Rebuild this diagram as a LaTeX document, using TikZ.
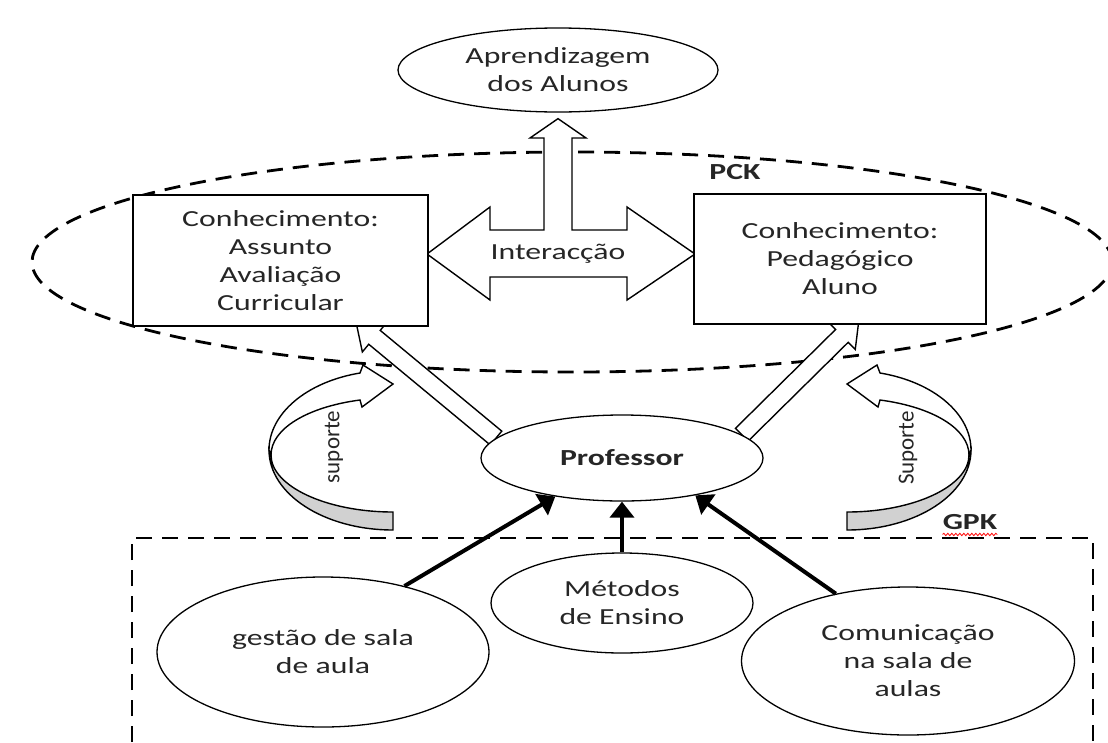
\documentclass[tikz,border=0pt]{standalone}
\usepackage{fontspec}
\setmainfont[FakeStretch=1.38]{Carlito}
\newfontfamily\upfont{Carlito}
\usepackage{tikz}
\usetikzlibrary{arrows.meta,positioning,calc,shapes.geometric,backgrounds,decorations.pathmorphing}

\newcommand{\hollowarrow}[5]{%
  \path ($(#2)!#5!(#1)$) coordinate (hb);
  \draw[hollow] ($(#1)!#3!90:(#2)$) -- ($(hb)!#3!90:(#2)$) -- ($(hb)!#4!90:(#2)$) -- (#2)
    -- ($(hb)!#4!-90:(#2)$) -- ($(hb)!#3!-90:(#2)$) -- ($(#1)!#3!-90:(#2)$) -- cycle;}
\newcommand{\suportearrow}{%
  \draw[band] (269,450) .. controls (269,494) and (324,530) .. (393,530) -- (393,512)
    .. controls (326,512) and (271,486) .. (271,455) -- cycle;
  \draw[hollow] (269,450) .. controls (269,414) and (306,382) .. (360,373) -- (363,365) -- (393,384)
    -- (362,407) -- (360,400) .. controls (307,407) and (271,429) .. (271,455) -- cycle;}

\begin{document}
\begin{tikzpicture}[
  x=1pt, y=-1pt,
  font=\fontsize{23}{28}\selectfont,
  every node/.style={text=black!85},
  box/.style={draw,line width=1.5pt,fill=white,align=center,inner sep=0pt,minimum width=295pt,minimum height=131pt},
  oval/.style={ellipse,draw,line width=1.3pt,fill=white,align=center,inner sep=0pt},
  hollow/.style={draw,line width=1.4pt,fill=white,line join=miter},
  band/.style={draw,line width=1.4pt,fill=black!18},
  zone/.style={line width=2.8pt,dash pattern=on 16pt off 10pt},
  arr/.style={-{Triangle[length=16pt,width=24pt]},line width=4pt}
]
\useasboundingbox (0,0) rectangle (1108,742);

\node[oval,minimum width=320pt,minimum height=84pt] (alunos) at (558,70) {Aprendizagem\\dos Alunos};
\node[box] (lbox) at (280.5,260.5) {Conhecimento:\\Assunto\\Avaliação\\Curricular};
\node[box,minimum width=292pt,minimum height=130pt] (rbox) at (840,259) {Conhecimento:\\Pedagógico\\Aluno};
\node (interac) at (558,254) {Interacção};
\node[oval,minimum width=282pt,minimum height=86pt] (prof) at (622,458) {\textbf{Professor}};
\node[oval,minimum width=262pt,minimum height=100pt] (metodos) at (622,603) {Métodos\\de Ensino};
\node[oval,minimum width=332pt,minimum height=150pt] (gestao) at (323,652) {gestão de sala\\de aula};
\node[oval,minimum width=333pt,minimum height=148pt] (comunic) at (908,661) {Comunicação\\na sala de\\aulas};
\node[inner sep=0pt] (pck) at (735,172) {\textbf{PCK}};
\node[inner sep=0pt] (gpk) at (970,522) {\textbf{GPK}};
\node[rotate=90,font=\upfont\fontsize{23}{28}\selectfont] (sup1) at (334,447) {suporte};
\node[rotate=90,font=\upfont\fontsize{23}{28}\selectfont] (sup2) at (908,448) {Suporte};

\coordinate (il) at (427,254);
\coordinate (ir) at (695,254);
\coordinate (itop) at ($(alunos.south)+(0,6)$);
\coordinate (ltip) at (356,322);
\coordinate (rtip) at (859,319);

\begin{scope}[on background layer]
\draw[zone] (572,262) ellipse [x radius=540pt,y radius=110pt];
\draw[zone] (132,742) -- (132,538) -- (1093,538) -- (1093,742);
\suportearrow
\begin{scope}[xshift=1240pt,xscale=-1]
\suportearrow
\end{scope}
\hollowarrow{prof.171}{ltip}{9pt}{19pt}{24pt}
\hollowarrow{prof.11}{rtip}{9pt}{19pt}{24pt}
\draw[hollow] (il) -- (490,207) -- (490,230) -- (544,230) -- (544,138) -- (530,138) -- (itop)
  -- (586,138) -- (572,138) -- (572,230) -- (627,230) -- (627,207) -- (ir) -- (627,300)
  -- (627,277) -- (490,277) -- (490,300) -- cycle;
\end{scope}

\draw[arr] (gestao.39) -- (prof.210);
\draw[arr] (metodos.north) -- (prof.south);
\draw[arr] (comunic.137) -- (prof.333);
\draw[red,line width=0.8pt,decorate,decoration={snake,amplitude=1.2pt,segment length=4pt}]
  ($(gpk.base west)+(0,5)$) -- ($(gpk.base east)+(0,5)$);
\end{tikzpicture}
\end{document}
